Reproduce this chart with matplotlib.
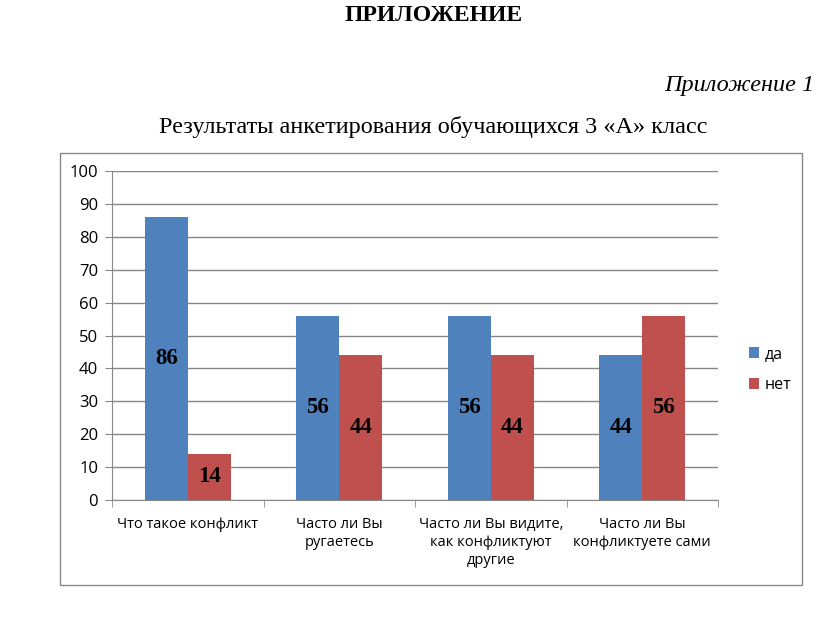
import matplotlib
matplotlib.use('Agg')
import numpy as np
import matplotlib.pyplot as plt
from matplotlib.patches import Rectangle

# Survey data
categories = ['Что такое конфликт', 'Часто ли Вы\nругаетесь',
              'Часто ли Вы видите,\nкак конфликтуют\nдругие', 'Часто ли Вы\nконфликтуете сами']
yes_vals = [86, 56, 56, 44]
no_vals = [14, 44, 44, 56]
y_ticks = [0, 10, 20, 30, 40, 50, 60, 70, 80, 90, 100]

blue = '#4F81BD'
red = '#C0504D'

fig = plt.figure(figsize=(8.16, 6.35), dpi=100)

# page text
fig.text(0.531, 0.975, 'ПРИЛОЖЕНИЕ', family='Liberation Serif', weight='bold',
         fontsize=17, ha='center', va='center')
fig.text(0.998, 0.866, 'Приложение 1', family='Liberation Serif', style='italic',
         fontsize=17.5, ha='right', va='center')
fig.text(0.531, 0.800, 'Результаты анкетирования обучающихся 3 «А» класс',
         family='Liberation Serif', fontsize=17.5, ha='center', va='center')

# chart frame
fig.patches.append(Rectangle((0.0735, 0.0787), 0.909, 0.680, transform=fig.transFigure,
                             fill=False, edgecolor='#888888', linewidth=1))

ax = fig.add_axes([0.1373, 0.2126, 0.7426, 0.5181])
x = np.arange(len(categories))
w = 0.284
b1 = ax.bar(x - w / 2, yes_vals, w, color=blue, label='да', zorder=3)
b2 = ax.bar(x + w / 2, no_vals, w, color=red, label='нет', zorder=3)

for bars, vals in [(b1, yes_vals), (b2, no_vals)]:
    for rect, v in zip(bars, vals):
        ax.text(rect.get_x() + rect.get_width() / 2, v / 2, str(v),
                family='Liberation Serif', weight='bold', fontsize=16.5,
                ha='center', va='center', zorder=4)

ax.set_xlim(-0.5, len(categories) - 0.5)
ax.set_ylim(0, 100)
ax.set_yticks(y_ticks)
ax.set_xticks(x)
ax.set_xticklabels(categories, family='Open Sans', fontsize=10.5, linespacing=1.3)
ax.set_xticks(np.arange(-0.5, len(categories)), minor=True)
ax.tick_params(axis='x', which='major', length=0, pad=12)
ax.tick_params(axis='x', which='minor', length=5, color='#888888')
ax.tick_params(axis='y', length=5, color='#888888', pad=5)
for lab in ax.get_yticklabels():
    lab.set_family('Open Sans')
    lab.set_fontsize(12)

ax.grid(axis='y', color='#868686', linewidth=1, zorder=0)
for s in ['top', 'right']:
    ax.spines[s].set_visible(False)
ax.spines['left'].set_color('#888888')
ax.spines['bottom'].set_color('#888888')

ax.legend(loc='center left', bbox_to_anchor=(0.9, 0.418), bbox_transform=fig.transFigure,
          frameon=False, prop={'family': 'Open Sans', 'size': 11.5},
          handlelength=0.65, handleheight=0.65, handletextpad=0.35, labelspacing=0.95)

fig.savefig('out.png', dpi=100)
